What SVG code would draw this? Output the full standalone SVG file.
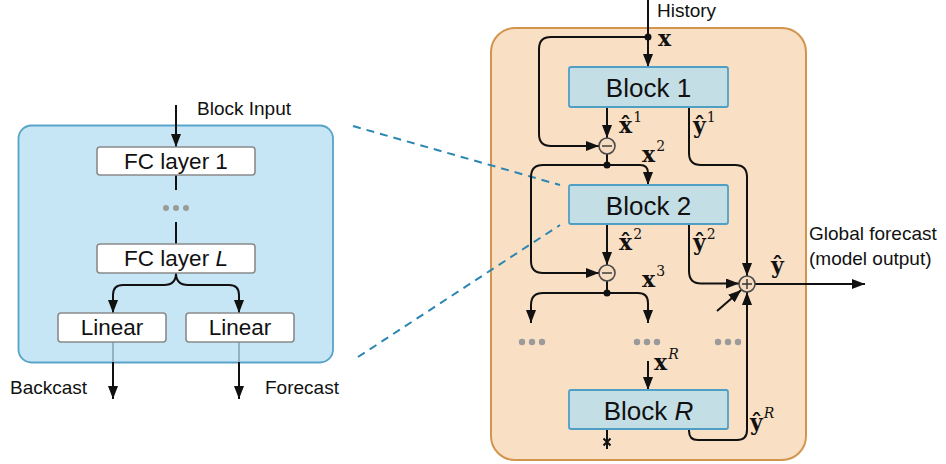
<svg xmlns="http://www.w3.org/2000/svg" width="946" height="464" viewBox="0 0 946 464">
<style>
.t{font-family:"Liberation Sans",Arial,sans-serif;fill:#111}
.lbl{font-size:19px}
.box{fill:#fff;stroke:#8a8a8a;stroke-width:1.6}
.blk{fill:#c4dee5;stroke:#4f9fc5;stroke-width:1.8}
.bt{font-size:22.5px;text-anchor:middle}
.bb{font-size:26px;text-anchor:middle}
.c{fill:none;stroke:#111;stroke-width:2}
.m{font-family:"DejaVu Serif","Liberation Serif",serif;font-weight:bold;font-size:22px;fill:#111}
.s{font-family:"DejaVu Serif","Liberation Serif",serif;font-weight:normal;font-size:14px}
.dot{fill:#9a9a9a}
.op{fill:#f6dcc0;stroke:#4a4a4a;stroke-width:1.6}
.dash{fill:none;stroke:#2a86b2;stroke-width:2;stroke-dasharray:8,6}
</style>
<defs>
<marker id="a" markerUnits="userSpaceOnUse" markerWidth="13" markerHeight="10" refX="13" refY="5" orient="auto">
<path d="M0,0 L13,5 L0,10 z" fill="#111"/>
</marker>
</defs>

<g id="panel-left">
<rect x="18.5" y="125.5" width="314.5" height="237" rx="13" fill="#c7e6f5" stroke="#58a3c9" stroke-width="1.8"/>
</g>
<g id="panel-right">
<rect x="491" y="28" width="315" height="432" rx="24" fill="#f9dfc3" stroke="#d3944d" stroke-width="2"/>
</g>

<g id="connectors">
<path class="dash" d="M353,126 L560,185"/>
<path class="dash" d="M358,357 L560,225"/>
<path class="c" d="M176,105 V147" marker-end="url(#a)"/>
<path class="c" d="M176,175 V190"/>
<path class="c" d="M176,222 V244"/>
<path class="c" d="M176,273 Q176,285 164,285 H123 Q113,285 113,295 V313" marker-end="url(#a)"/>
<path class="c" d="M176,273 Q176,285 188,285 H229 Q239,285 239,295 V313" marker-end="url(#a)"/>
<path d="M113,342 V363 M239,342 V363" stroke="#8fb3c4" stroke-width="2" fill="none"/>
<path class="c" d="M113,362 V399" marker-end="url(#a)"/>
<path class="c" d="M239,362 V399" marker-end="url(#a)"/>
<path class="c" d="M648,0 V67" marker-end="url(#a)"/>
<path class="c" d="M648,37 H551 Q539,37 539,49 V134 Q539,146 551,146 H599" marker-end="url(#a)"/>
<path class="c" d="M607,107 V138" marker-end="url(#a)"/>
<path class="c" d="M607,154 V165"/>
<path class="c" d="M607,165 H640 Q648,165 648,173 V185" marker-end="url(#a)"/>
<path class="c" d="M607,165 H543 Q531,165 531,177 V261 Q531,273 543,273 H599" marker-end="url(#a)"/>
<path class="c" d="M607,224 V265" marker-end="url(#a)"/>
<path class="c" d="M607,281 V293"/>
<path class="c" d="M607,293 H543 Q531,293 531,305 V323" marker-end="url(#a)"/>
<path class="c" d="M607,293 H638 Q648,293 648,303 V323" marker-end="url(#a)"/>
<path class="c" d="M689,107 V153 Q689,165 701,165 H735 Q747,165 747,177 V276" marker-end="url(#a)"/>
<path class="c" d="M689,224 V271 Q689,283.5 701,283.5 H739" marker-end="url(#a)"/>
<path class="c" d="M689,429 V431 Q689,440 698,440 H737 Q747,440 747,430 V292" marker-end="url(#a)"/>
<path class="c" d="M717,311 L741.2,290" marker-end="url(#a)"/>
<path class="c" d="M755,284 H865" marker-end="url(#a)"/>
<path class="c" d="M648,361 V390" marker-end="url(#a)"/>
<path class="c" d="M607,429 V449 M603.5,438.5 L610.5,445.5 M610.5,438.5 L603.5,445.5"/>
<circle cx="648" cy="37" r="3.5" fill="#111"/>
<circle cx="607" cy="165" r="3.5" fill="#111"/>
<circle cx="607" cy="293" r="3.5" fill="#111"/>
</g>

<g id="fc1">
<rect class="box" x="97" y="147" width="158" height="28" rx="3"/>
<text class="t bt" x="176" y="168.5">FC layer 1</text>
</g>
<g id="dots-left">
<circle class="dot" cx="166" cy="208" r="3"/><circle class="dot" cx="176" cy="208" r="3"/><circle class="dot" cx="186" cy="208" r="3"/>
</g>
<g id="fcL">
<rect class="box" x="97" y="244" width="158" height="29" rx="3"/>
<text class="t bt" x="176" y="266">FC layer <tspan font-style="italic">L</tspan></text>
</g>
<g id="linear1">
<rect class="box" x="58" y="313" width="108" height="29" rx="3"/>
<text class="t bt" x="112" y="335">Linear</text>
</g>
<g id="linear2">
<rect class="box" x="186" y="313" width="108" height="29" rx="3"/>
<text class="t bt" x="240" y="335">Linear</text>
</g>
<g id="labels-left">
<text class="t lbl" x="197" y="115">Block Input</text>
<text class="t lbl" x="10" y="394">Backcast</text>
<text class="t lbl" x="265" y="394">Forecast</text>
</g>

<g id="block1">
<rect class="blk" x="569" y="67" width="159" height="40" rx="2"/>
<text class="t bb" x="648.5" y="97">Block 1</text>
</g>
<g id="block2">
<rect class="blk" x="569" y="185" width="159" height="39" rx="2"/>
<text class="t bb" x="648.5" y="214.5">Block 2</text>
</g>
<g id="blockR">
<rect class="blk" x="569" y="390" width="159" height="39" rx="2"/>
<text class="t bb" x="648.5" y="419.5">Block <tspan font-style="italic">R</tspan></text>
</g>
<g id="minus1">
<circle class="op" cx="607" cy="146" r="8"/>
<path d="M602,146 H612" stroke="#333" stroke-width="1.4"/>
</g>
<g id="minus2">
<circle class="op" cx="607" cy="273" r="8"/>
<path d="M602,273 H612" stroke="#333" stroke-width="1.4"/>
</g>
<g id="plus">
<circle class="op" cx="747" cy="284" r="8"/>
<path d="M742,284 H752 M747,279 V289" stroke="#333" stroke-width="1.4"/>
</g>
<g id="dots-right">
<circle class="dot" cx="522" cy="342" r="3.2"/><circle class="dot" cx="532" cy="342" r="3.2"/><circle class="dot" cx="542" cy="342" r="3.2"/>
<circle class="dot" cx="637" cy="342" r="3.2"/><circle class="dot" cx="647" cy="342" r="3.2"/><circle class="dot" cx="657" cy="342" r="3.2"/>
<circle class="dot" cx="718" cy="342" r="3.2"/><circle class="dot" cx="728" cy="342" r="3.2"/><circle class="dot" cx="738" cy="342" r="3.2"/>
</g>

<g id="math">
<text class="t lbl" x="657" y="17">History</text>
<text class="m" x="658" y="46">x</text>
<text class="m" x="619" y="133">x̂<tspan class="s" dx="1" dy="-11">1</tspan></text>
<text class="m" x="693" y="133">ŷ<tspan class="s" dx="1" dy="-11">1</tspan></text>
<text class="m" x="642" y="162">x<tspan class="s" dx="1" dy="-11">2</tspan></text>
<text class="m" x="619" y="250">x̂<tspan class="s" dx="1" dy="-11">2</tspan></text>
<text class="m" x="693" y="250">ŷ<tspan class="s" dx="1" dy="-11">2</tspan></text>
<text class="m" x="642" y="287">x<tspan class="s" dx="1" dy="-11">3</tspan></text>
<text class="m" x="654" y="370">x<tspan class="s" dx="1" dy="-11" font-style="italic">R</tspan></text>
<text class="m" x="750" y="430">ŷ<tspan class="s" dx="1" dy="-12" font-style="italic">R</tspan></text>
<text class="m" x="771" y="273">ŷ</text>
<text class="t lbl" x="809" y="240">Global forecast</text>
<text class="t lbl" x="809" y="265">(model output)</text>
</g>
</svg>
